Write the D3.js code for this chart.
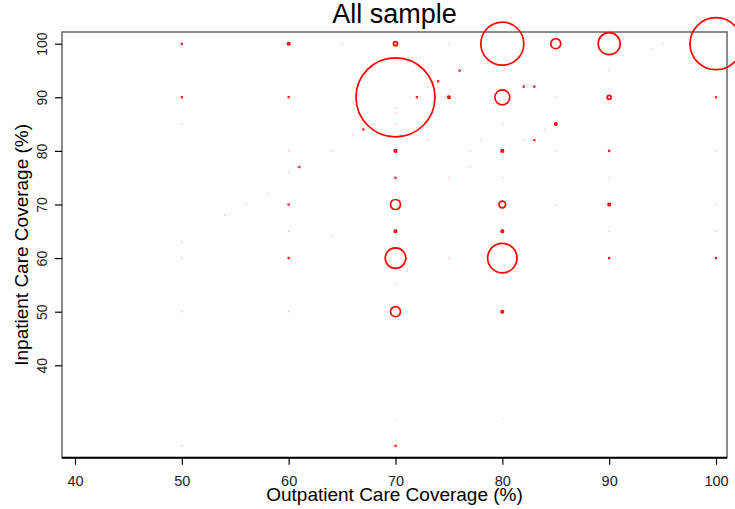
<!DOCTYPE html>
<html>
<head>
<meta charset="utf-8">
<script src="https://cdn.jsdelivr.net/npm/d3@7"></script>
<style>
  html, body { margin: 0; padding: 0; background: #fff; }
  svg { display: block; font-family: "Liberation Sans", Arial, sans-serif; }
</style>
</head>
<body>
<svg id="chart" width="735" height="509"></svg>
<script>
// ---- data ----
const title = "All sample";
const xLabel = "Outpatient Care Coverage (%)";
const yLabel = "Inpatient Care Coverage (%)";
const xTicks = [40, 50, 60, 70, 80, 90, 100];
const yTicks = [40, 50, 60, 70, 80, 90, 100];

// outpatient coverage (x), inpatient coverage (y), relative weight (circle area)
const outpatient = [
  50, 50, 50, 50, 50, 50, 50,
  54, 56, 58,
  60, 60, 60, 60, 60, 60, 60, 60,
  61, 64, 64, 65, 66, 67, 68,
  70, 70, 70, 70, 70, 70, 70, 70, 70, 70, 70, 70, 70, 70,
  72, 73, 73, 74,
  75, 75, 75, 75,
  76, 77, 77, 78,
  80, 80, 80, 80, 80, 80, 80, 80, 80, 80, 80,
  82, 83, 82, 83, 84,
  85, 85, 85, 85, 85,
  90, 90, 90, 90, 90, 90, 90, 90,
  94, 95,
  100, 100, 100, 100, 100, 100
];
const inpatient = [
  100, 90, 85, 63, 60, 50, 25,
  68, 70, 72,
  100, 90, 80, 76, 70, 65, 60, 50,
  77, 80, 64, 100, 83, 84, 85,
  100, 90, 88, 87, 85, 80, 75, 70, 65, 60, 55, 50, 30, 25,
  90, 92, 82, 93,
  100, 90, 75, 60,
  95, 80, 77, 82,
  100, 95, 90, 85, 80, 75, 70, 65, 60, 50, 30,
  92, 92, 82, 82, 84,
  100, 90, 85, 80, 70,
  100, 95, 90, 80, 75, 70, 65, 60,
  99, 100,
  100, 90, 80, 70, 65, 60
];
const weight = [
  0.2, 0.2, 0.01, 0.01, 0.01, 0.01, 0.01,
  0.01, 0.01, 0.01,
  1.44, 0.2, 0.01, 0.01, 0.2, 0.01, 0.2, 0.01,
  0.2, 0.01, 0.01, 0.01, 0.01, 0.2, 0.01,
  4, 1560, 0.01, 0.01, 0.01, 1.44, 0.2, 25, 1.44, 106, 0.01, 25, 0.01, 0.2,
  0.2, 0.01, 0.01, 0.2,
  0.01, 1.44, 0.01, 0.01,
  0.2, 0.01, 0.01, 0.01,
  462, 0.01, 56, 0.01, 1.44, 0.01, 11, 1.44, 216, 1.44, 0.01,
  0.2, 0.2, 0.01, 0.2, 0.01,
  25, 0.01, 1.44, 0.01, 0.01,
  121, 0.01, 4, 0.2, 0.01, 1.44, 0.01, 0.2,
  0.01, 0.01,
  676, 0.2, 0.01, 0.01, 0.01, 0.2
];

// ---- layout ----
const svg = d3.select("#chart");
const box = { left: 62, right: 727, top: 32, bottom: 457.7 };

const x = d3.scaleLinear().domain([40, 100]).range([75, 716]);
const y = d3.scaleLinear().domain([40, 100]).range([365.3, 43.7]);
const r = d3.scaleSqrt().domain([0, 1600]).range([0, 40]);

// plot box
svg.append("rect")
  .attr("x", box.left).attr("y", box.top)
  .attr("width", box.right - box.left).attr("height", box.bottom - box.top)
  .attr("fill", "none").attr("stroke", "#666").attr("stroke-width", 1.5);

// x axis (bottom)
const xAxis = d3.axisBottom(x).tickValues(xTicks).tickSize(7).tickSizeOuter(0).tickPadding(11);
const gx = svg.append("g").attr("transform", `translate(0,${box.bottom})`).call(xAxis);
gx.select(".domain").remove();
gx.selectAll(".tick line").attr("stroke", "#000").attr("stroke-width", 1.2);
gx.selectAll(".tick text").attr("font-size", 14.5).attr("fill", "#222")
  .attr("font-family", "'Liberation Sans', Arial, sans-serif");
svg.append("line")
  .attr("x1", box.left).attr("x2", box.right)
  .attr("y1", box.bottom).attr("y2", box.bottom)
  .attr("stroke", "#000").attr("stroke-width", 2);

// y axis (left), rotated labels as in R
const yAxis = d3.axisLeft(y).tickValues(yTicks).tickSize(7).tickSizeOuter(0);
const gy = svg.append("g").attr("transform", `translate(${box.left},0)`).call(yAxis);
gy.select(".domain").remove();
gy.selectAll(".tick line").attr("stroke", "#000").attr("stroke-width", 1.2);
gy.selectAll(".tick text")
  .attr("font-size", 14).attr("fill", "#222")
  .attr("font-family", "'Liberation Sans', Arial, sans-serif")
  .attr("x", null).attr("dy", null)
  .attr("text-anchor", "middle")
  .attr("transform", "translate(-15.5,0) rotate(-90)");

// points
const pts = outpatient.map((v, i) => ({ x: v, y: inpatient[i], w: weight[i] }));
svg.append("g").selectAll("circle").data(pts).join("circle")
  .attr("cx", d => x(d.x))
  .attr("cy", d => y(d.y))
  .attr("r", d => r(d.w))
  .attr("fill", "none")
  .attr("stroke", "#ff0000")
  .attr("stroke-width", d => r(d.w) < 0.2 ? 0.9 : 1.7);

// title and axis labels
svg.append("text").attr("x", 394.5).attr("y", 22.7)
  .attr("text-anchor", "middle").attr("font-size", 27).attr("fill", "#000")
  .text(title);
svg.append("text").attr("x", 394.5).attr("y", 501)
  .attr("text-anchor", "middle").attr("font-size", 19).attr("fill", "#000")
  .text(xLabel);
svg.append("text")
  .attr("transform", `translate(28,${(box.top + box.bottom) / 2}) rotate(-90)`)
  .attr("text-anchor", "middle").attr("font-size", 19).attr("fill", "#000")
  .text(yLabel);
</script>
</body>
</html>
